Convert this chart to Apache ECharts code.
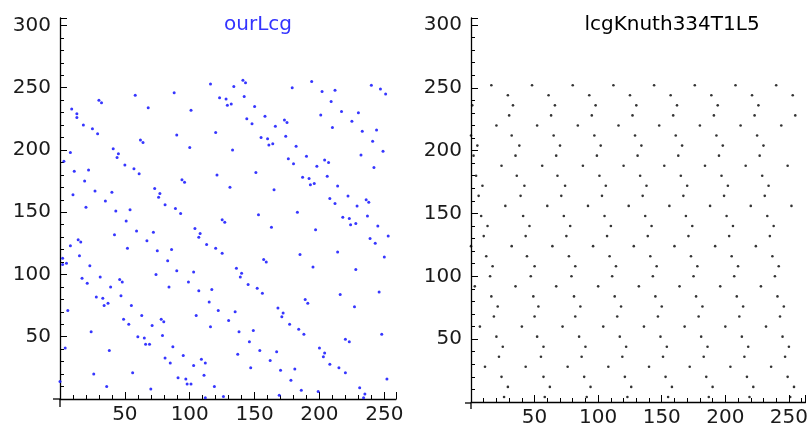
<!DOCTYPE html>
<html>
<head>
<meta charset="utf-8">
<script src="https://cdn.jsdelivr.net/npm/echarts@6/dist/echarts.min.js"></script>
<style>
  html, body { margin: 0; padding: 0; background: #ffffff; }
  #chart { width: 811px; height: 428px; }
</style>
</head>
<body>
<div id="chart"></div>
<script>
// ---- Titles ----
var leftTitle = 'ourLcg';
var rightTitle = 'lcgKnuth334T1L5';

// ---- Tick labels ----
var xTickValues = [50, 100, 150, 200, 250];
var yTickValues = [50, 100, 150, 200, 250, 300];

// ---- Left panel: ourLcg (x, y) pairs ----
var ourLcgPoints = [
  [141,256],[143,254],[194,255],[240,252],[116,253],[179,250],[247,249],[212,248],
  [134,251],[251,245],[202,247],[58,244],[88,246],[142,243],[123,242],[128,241],
  [30,240],[32,238],[209,239],[129,236],[132,237],[150,235],[9,233],[68,234],
  [101,232],[230,230],[13,229],[13,226],[217,231],[201,228],[158,227],[144,225],
  [225,223],[173,224],[175,222],[148,221],[18,220],[166,219],[210,218],[25,217],
  [244,216],[233,215],[29,213],[120,214],[90,212],[155,210],[174,211],[160,209],
  [62,208],[64,206],[241,207],[164,205],[161,204],[182,203],[41,201],[100,202],
  [133,200],[8,198],[249,199],[45,197],[44,194],[190,195],[232,196],[176,193],
  [180,189],[204,192],[207,190],[3,191],[50,188],[198,187],[242,186],[57,185],
  [22,184],[11,183],[61,181],[151,182],[121,180],[206,179],[94,176],[96,174],
  [19,175],[187,178],[192,177],[193,172],[196,173],[214,171],[73,169],[131,170],
  [165,168],[27,167],[77,165],[76,162],[40,166],[10,164],[208,161],[222,163],
  [236,160],[238,158],[212,157],[35,159],[20,154],[81,156],[229,155],[89,153],
  [54,152],[43,151],[93,149],[183,150],[153,148],[237,147],[218,146],[223,145],
  [224,140],[125,144],[127,142],[51,143],[228,141],[245,139],[163,138],[104,137],
  [59,135],[197,136],[108,133],[107,130],[72,134],[42,132],[253,131],[239,129],
  [14,128],[16,126],[67,127],[243,125],[8,123],[113,124],[120,121],[52,121],
  [125,117],[75,119],[214,118],[15,115],[185,116],[86,120],[250,114],[2,113],
  [2,108],[5,109],[83,111],[157,112],[159,110],[136,105],[31,98],[140,101],
  [139,98],[195,106],[23,107],[228,104],[90,103],[103,102],[74,100],[17,97],
  [46,96],[48,94],[39,90],[21,93],[99,94],[145,92],[84,90],[152,89],
  [156,85],[107,87],[117,88],[216,84],[246,86],[28,82],[33,81],[34,75],
  [37,77],[47,83],[189,80],[191,77],[115,78],[55,75],[227,74],[6,71],
  [168,73],[122,71],[135,70],[172,69],[171,66],[105,67],[63,67],[49,64],
  [78,64],[80,62],[130,63],[53,60],[177,60],[71,59],[116,58],[184,56],
  [149,55],[24,54],[188,52],[138,54],[248,52],[79,51],[60,50],[65,49],
  [66,44],[69,44],[220,48],[223,46],[146,46],[4,41],[87,42],[200,41],
  [204,37],[203,34],[38,39],[167,38],[154,39],[137,36],[95,35],[81,33],
  [85,29],[109,32],[112,29],[162,31],[208,28],[103,27],[147,25],[215,25],
  [181,24],[56,21],[220,21],[170,23],[26,20],[91,17],[111,19],[97,16],
  [98,12],[101,12],[252,16],[0,14],[178,15],[119,10],[36,10],[231,9],
  [70,8],[186,7],[199,6],[169,3],[235,4],[234,1],[126,2],[112,1]
];

// ---- Right panel: lcgKnuth334T1L5, points read row by row ----
var knuthRowY = [252,244,236,228,220,212,204,196,188,180,172,164,156,148,140,132,
                 124,116,108,100,92,84,76,68,60,52,44,36,28,20,12,4];
var knuthRowX = [
  [16,48,80,112,144,176,208,240],
  [29,61,93,125,157,189,221,253],
  [1,33,66,98,130,162,194,226],
  [30,63,95,127,159,191,223,255],
  [20,52,84,116,148,180,212,244],
  [0,32,65,97,129,161,193,225],
  [5,38,70,102,134,166,198,230],
  [2,35,67,99,131,163,195,227],
  [24,56,88,120,152,184,216,249],
  [4,36,68,101,133,165,197,229],
  [9,42,74,106,138,170,202,234],
  [6,39,71,103,135,167,199,231],
  [27,60,92,124,156,188,220,252],
  [8,41,73,105,137,169,201,233],
  [13,46,78,110,142,174,206,238],
  [10,43,75,107,139,171,203,235],
  [0,32,64,96,128,160,192,224],
  [12,44,77,109,141,173,205,237],
  [17,50,82,114,146,178,210,242],
  [15,47,79,111,143,175,207,239],
  [3,35,67,100,132,164,196,228],
  [16,49,81,113,145,177,209,241],
  [21,53,86,118,150,182,214,246],
  [18,50,82,115,147,179,211,243],
  [7,40,72,104,136,168,200,232],
  [20,52,85,117,149,181,213,245],
  [25,57,90,122,154,186,218,250],
  [22,55,87,119,151,183,215,247],
  [11,43,76,108,140,172,204,236],
  [24,57,89,121,153,185,217,249],
  [29,62,94,126,158,190,222,254],
  [26,58,91,123,155,187,219,251]
];

var knuthPoints = [];
for (var r = 0; r < knuthRowY.length; r++) {
  for (var c = 0; c < knuthRowX[r].length; c++) {
    knuthPoints.push([knuthRowX[r][c], knuthRowY[r]]);
  }
}

var FONT = 'DejaVu Sans';

function fmtX(v) { return xTickValues.indexOf(v) >= 0 ? String(v) : ''; }
function fmtY(v) { return yTickValues.indexOf(v) >= 0 ? String(v) : ''; }

function makeX(gridIndex, max) {
  return {
    type: 'value', gridIndex: gridIndex, min: 0, max: max, interval: 50,
    axisLine: { show: true, onZero: false, lineStyle: { color: '#000', width: 1.3 } },
    axisTick: { show: true, inside: true, length: 7, lineStyle: { color: '#000', width: 1 } },
    minorTick: { show: true, splitNumber: 5, length: 4, lineStyle: { color: '#000', width: 1 } },
    splitLine: { show: false },
    axisLabel: { show: true, formatter: fmtX, fontFamily: FONT, fontSize: 20, color: '#1a1a1a', margin: 6,
                 showMinLabel: false, showMaxLabel: false }
  };
}
function makeY(gridIndex, max) {
  return {
    type: 'value', gridIndex: gridIndex, min: 0, max: max, interval: 50,
    axisLine: { show: true, onZero: false, lineStyle: { color: '#000', width: 1.3 } },
    axisTick: { show: true, inside: true, length: 7, lineStyle: { color: '#000', width: 1 } },
    minorTick: { show: true, splitNumber: 5, length: 4, lineStyle: { color: '#000', width: 1 } },
    splitLine: { show: false },
    axisLabel: { show: true, formatter: fmtY, fontFamily: FONT, fontSize: 20, color: '#1a1a1a', margin: 9,
                 showMinLabel: false, showMaxLabel: false }
  };
}

var axisStub = { stroke: '#000', lineWidth: 1.3 };

var chart = echarts.init(document.getElementById('chart'), null, { renderer: 'canvas' });
chart.setOption({
  animation: false,
  backgroundColor: '#ffffff',
  title: [
    { text: leftTitle, left: 253, top: 10, textAlign: 'center',
      textStyle: { fontFamily: FONT, fontSize: 20, fontWeight: 'normal', color: '#3333ff' } },
    { text: rightTitle, left: 667, top: 10, textAlign: 'center',
      textStyle: { fontFamily: FONT, fontSize: 20, fontWeight: 'normal', color: '#000000' } }
  ],
  grid: [
    { left: 60, top: 18, width: 336, height: 381 },
    { left: 471, top: 18, width: 337, height: 385 }
  ],
  // short axis-line overhangs past the origin, as in the reference
  graphic: [
    { type: 'line', shape: { x1: 53, y1: 399, x2: 60, y2: 399 }, style: axisStub, silent: true },
    { type: 'line', shape: { x1: 60, y1: 399, x2: 60, y2: 407 }, style: axisStub, silent: true },
    { type: 'line', shape: { x1: 465, y1: 403, x2: 471, y2: 403 }, style: axisStub, silent: true },
    { type: 'line', shape: { x1: 471, y1: 403, x2: 471, y2: 409 }, style: axisStub, silent: true }
  ],
  xAxis: [ makeX(0, 259), makeX(1, 263) ],
  yAxis: [ makeY(0, 306), makeY(1, 305.5) ],
  series: [
    { type: 'scatter', xAxisIndex: 0, yAxisIndex: 0, data: ourLcgPoints,
      symbol: 'circle', symbolSize: 3, itemStyle: { color: '#2020ff', opacity: 0.9 } },
    { type: 'scatter', xAxisIndex: 1, yAxisIndex: 1, data: knuthPoints,
      symbol: 'circle', symbolSize: 2.6, itemStyle: { color: '#000000' } }
  ]
});
</script>
</body>
</html>
